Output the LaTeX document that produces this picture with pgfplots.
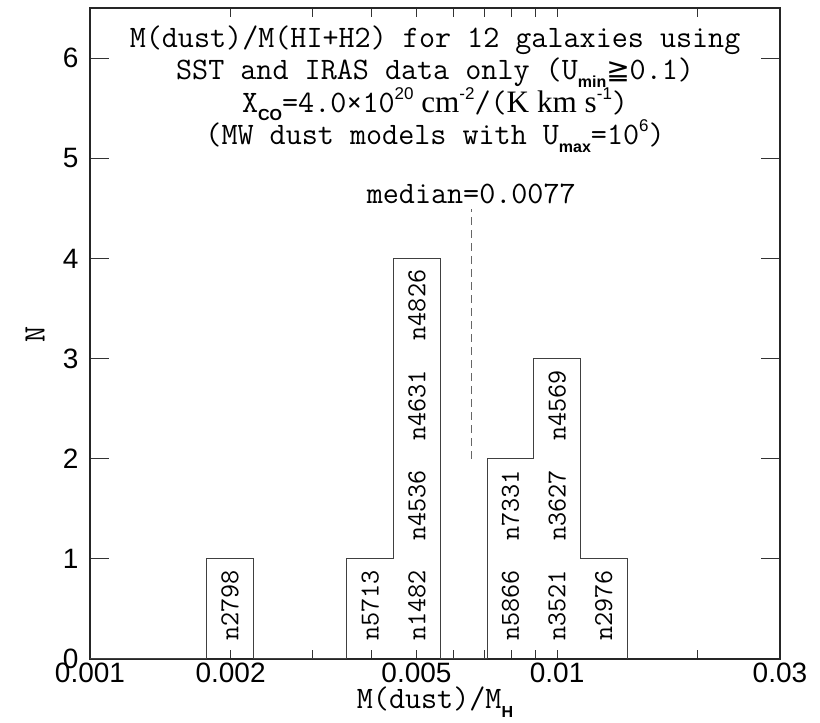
\documentclass[border=0pt]{standalone}
\usepackage{pgfplots}
\pgfplotsset{compat=1.18}
\usepackage{fontspec}
\newfontfamily\sansf{Liberation Sans}
\newfontfamily\serf{Liberation Serif}
\newfontfamily\symf{DejaVu Sans}
\newcommand\sub[1]{\raisebox{-0.26em}{\sansf\bfseries\fontsize{16bp}{16bp}\selectfont #1}}
\newcommand\sups[1]{\raisebox{0.40em}{\sansf\fontsize{17bp}{17bp}\selectfont #1}}
\newcommand\tfont{\ttfamily\fontsize{31.2bp}{32.5bp}\selectfont}
\begin{document}
\begin{tikzpicture}
\begin{axis}[name=ax, scale only axis, width=690bp, height=651bp,
  xmode=log, xmin=0.001, xmax=0.03, ymin=0, ymax=6.5,
  axis line style={line width=1.2bp, black!85},
  tick align=inside, tick pos=both,
  xtick={0.001,0.002,0.005,0.01,0.03},
  xticklabels={0.001,0.002,0.005,0.01,0.03},
  minor xtick={0.002,0.003,0.004,0.005,0.006,0.007,0.008,0.009,0.01,0.02},
  every major x tick/.append style={draw=none},
  ytick={0,1,2,3,4,5,6},
  major tick length=19bp, minor tick length=9bp,
  every minor tick/.append style={line width=1bp, black!80},
  every major y tick/.append style={line width=1bp, black!80},
  ticklabel style={font=\sansf\fontsize{28bp}{28bp}\selectfont},
  yticklabel style={xshift=-8bp},
  /pgf/number format/assume math mode=true,
  xlabel={M(dust)/M\sub{H}}, ylabel={N},
  every axis x label/.style={at={(rel axis cs:0.5,0)}, anchor=base, yshift=-50bp, font=\tfont},
  every axis y label/.style={at={(rel axis cs:0,0.498)}, anchor=center, xshift=-55bp, rotate=90, font=\tfont},
]
% histogram outline (bins of 0.1 dex)
\addplot[const plot, draw=black!75, line width=1bp] coordinates {
 (0.001,0) (0.0017783,1) (0.0022387,0) (0.0035481,1) (0.0044668,4)
 (0.0056234,0) (0.0070795,2) (0.0089125,3) (0.0112202,1) (0.0141254,0)};
% median line
\addplot[black!60, line width=1bp, dash pattern=on 8bp off 5bp] coordinates {(0.00655,2) (0.00655,4.49)};
\node[anchor=base, font=\tfont] at (axis cs:0.00655,4.55) {median=0.0077};
% galaxy labels
\begin{scope}[every node/.style={rotate=90, anchor=west, inner sep=0pt, font=\ttfamily\fontsize{27.4bp}{27.4bp}\selectfont}]
\node at (axis cs:0.0019953,0.18) {n2798};
\node at (axis cs:0.0039811,0.18) {n5713};
\node at (axis cs:0.0050119,0.18) {n1482};
\node at (axis cs:0.0050119,1.18) {n4536};
\node at (axis cs:0.0050119,2.18) {n4631};
\node at (axis cs:0.0050119,3.18) {n4826};
\node at (axis cs:0.0079433,0.18) {n5866};
\node at (axis cs:0.0079433,1.18) {n7331};
\node at (axis cs:0.01,0.18) {n3521};
\node at (axis cs:0.01,1.18) {n3627};
\node at (axis cs:0.01,2.18) {n4569};
\node at (axis cs:0.0125893,0.18) {n2976};
\end{scope}
% title text
\begin{scope}[every node/.style={anchor=base, font=\tfont}]
\node at (axis cs:0.00548,6.108) {M(dust)/M(HI+H2) for 12 galaxies using};
\node at (axis cs:0.00548,5.788) {SST and IRAS data only (U\sub{min}{\symf\fontsize{28bp}{28bp}\selectfont ≧}0.1)};
\node at (axis cs:0.00548,5.459) {X\sub{CO}=4.0×10\sups{20}{\serf\ cm}\sups{-2}/({\serf K km s}\sups{-1})};
\node at (axis cs:0.00548,5.140) {(MW dust models with U\sub{max}=10\sups{6})};
\end{scope}
\end{axis}
\path ([shift={(-90bp,-64bp)}]ax.south west) rectangle ([shift={(40bp,8bp)}]ax.north east);
\end{tikzpicture}
\end{document}
